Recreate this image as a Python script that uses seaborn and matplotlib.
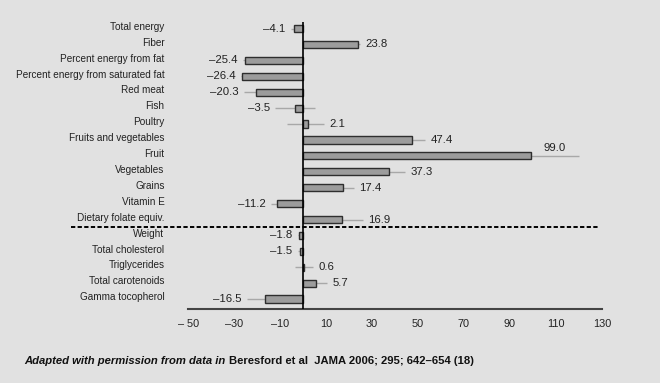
import numpy as np
import pandas as pd
import matplotlib.pyplot as plt
import matplotlib.transforms as mtransforms
import seaborn as sns

categories = [
    "Total energy", "Fiber", "Percent energy from fat",
    "Percent energy from saturated fat", "Red meat", "Fish", "Poultry",
    "Fruits and vegetables", "Fruit", "Vegetables", "Grains", "Vitamin E",
    "Dietary folate equiv.", "Weight", "Total cholesterol", "Triglycerides",
    "Total carotenoids", "Gamma tocopherol",
]
values = [-4.1, 23.8, -25.4, -26.4, -20.3, -3.5, 2.1, 47.4, 99.0, 37.3,
          17.4, -11.2, 16.9, -1.8, -1.5, 0.6, 5.7, -16.5]
ci_low = [-5.4, 22.6, -26.0, -27.0, -25.6, -12.0, -7.0, 41.0, 78.0, 30.0,
          13.0, -14.0, 8.0, -2.4, -2.4, -3.3, 1.0, -24.5]
ci_high = [-2.8, 24.8, -24.8, -25.8, -15.0, 5.2, 9.2, 53.0, 120.0, 44.3,
           22.0, -8.5, 26.0, -1.2, -0.6, 4.5, 10.4, -8.5]
xticks = [-50, -30, -10, 10, 30, 50, 70, 90, 110, 130]
xtick_labels = ["\u2013 50", "\u201330", "\u201310", "10", "30", "50", "70",
                "90", "110", "130"]
split_after = "Dietary folate equiv."
footer_italic = "Adapted with permission from data in "
footer_plain = "Beresford et al  JAMA 2006; 295; 642\u2013654 (18)"

BG = "#e1e1e1"
sns.set_style("white", {"axes.facecolor": BG, "figure.facecolor": BG})
plt.rcParams["font.family"] = ["Liberation Sans", "DejaVu Sans"]

df = pd.DataFrame({"category": categories, "value": values,
                   "lo": ci_low, "hi": ci_high})

fig = plt.figure(figsize=(6.6, 3.83), dpi=100)
ax = fig.add_axes([0.285, 0.193, 0.627, 0.749])

pos = np.arange(len(df))
ax.hlines(pos, df["lo"], df["hi"], color="#a8a8a8", linewidth=1.0, zorder=1)
sns.barplot(data=df, x="value", y="category", orient="h", color="#9c9c9c",
            saturation=1, edgecolor="#2e2e2e", linewidth=1.0, width=0.45,
            ax=ax, zorder=2)

for i, row in df.iterrows():
    txt = f"{row['value']:.1f}".replace("-", "\u2013")
    if row["category"] == "Fruit":
        ax.annotate(txt, ((row["value"] + row["hi"]) / 2, i),
                    xytext=(0, 2), textcoords="offset points",
                    ha="center", va="bottom", fontsize=8.2, color="#222222")
    elif row["value"] >= 0:
        ax.annotate(txt, (row["hi"], i), xytext=(4, 0),
                    textcoords="offset points", ha="left", va="center",
                    fontsize=8.2, color="#222222")
    else:
        ax.annotate(txt, (row["lo"], i), xytext=(-4, 0),
                    textcoords="offset points", ha="right", va="center",
                    fontsize=8.2, color="#222222")

ax.axvline(0, color="black", linewidth=1.2, zorder=3)

# dashed separator between diet and biomarker rows
k = categories.index(split_after) + 0.5
ax.plot([-101, 128.5], [k, k], color="black", linewidth=1.4,
        linestyle=(0, (2.2, 1.2)), clip_on=False, zorder=3)

ax.set_xlim(-50, 130)
ax.set_ylim(len(df) - 0.37, -0.4)
ax.set_xticks(xticks)
ax.set_xticklabels(xtick_labels, fontsize=7.8, color="#222222")
ax.set_xlabel("")
ax.set_ylabel("")
ax.tick_params(axis="x", direction="in", length=3, width=1, color="#444444",
               pad=7)
ax.tick_params(axis="y", length=0, pad=17, labelsize=7.2, labelcolor="#222222")
shift_up = mtransforms.ScaledTranslation(0, 2 / 72, fig.dpi_scale_trans)
for lab in ax.get_yticklabels():
    lab.set_horizontalalignment("right")
    lab.set_transform(lab.get_transform() + shift_up)

for side in ["top", "right", "left"]:
    ax.spines[side].set_visible(False)
ax.spines["bottom"].set_color("#444444")
ax.spines["bottom"].set_linewidth(1.5)

t1 = fig.text(0.037, 0.057, footer_italic, fontsize=8.1, fontweight="bold",
              style="italic", va="center", ha="left", color="#111111")
fig.canvas.draw()
bb = t1.get_window_extent().transformed(fig.transFigure.inverted())
fig.text(bb.x1, 0.057, footer_plain, fontsize=8.1, fontweight="bold",
         va="center", ha="left", color="#111111")

fig.savefig("out.png", dpi=100, facecolor=BG)
